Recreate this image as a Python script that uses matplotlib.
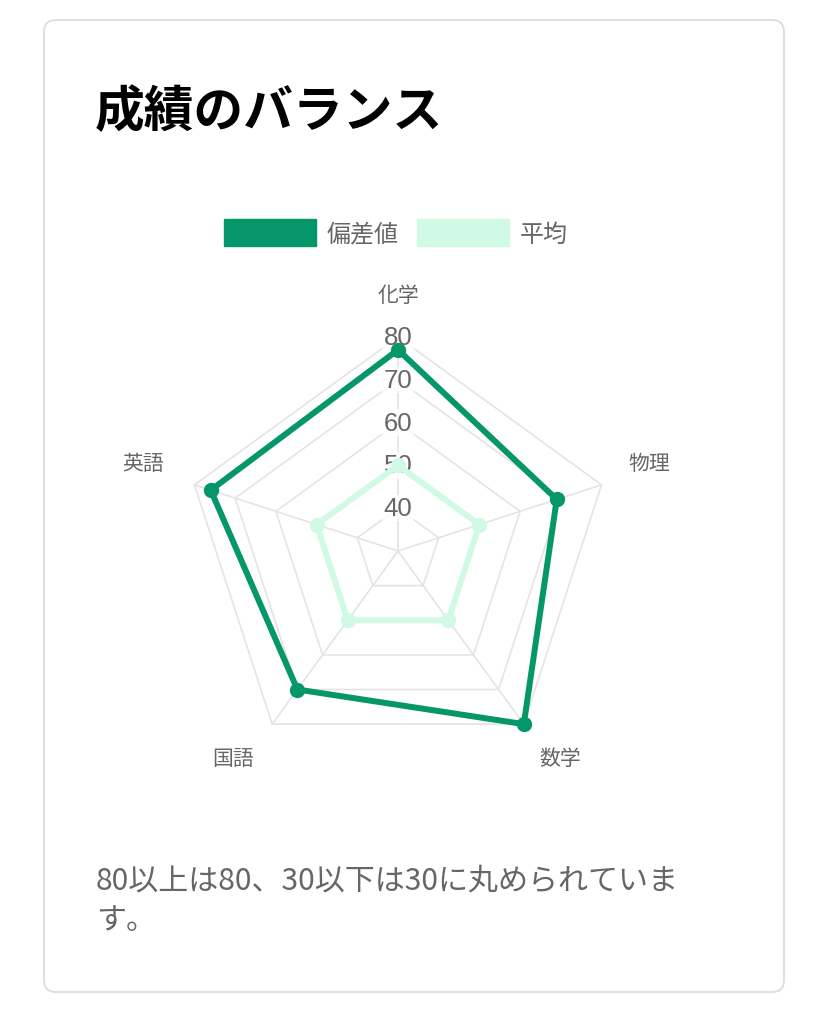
import numpy as np
import matplotlib
matplotlib.use('Agg')
import matplotlib.pyplot as plt
from matplotlib.patches import FancyBboxPatch, Patch

plt.rcParams['font.family'] = ['Noto Sans CJK JP', 'DejaVu Sans']

# ---- data ----
title = '成績のバランス'
subjects = ['化学', '物理', '数学', '国語', '英語']
series_names = ['偏差値', '平均']
deviation = [77, 69, 80, 70, 76]
average = [50, 50, 50, 50, 50]
r_min, r_max = 30, 80
tick_values = [40, 50, 60, 70, 80]
note_lines = ['80以上は80、30以下は30に丸められていま', 'す。']

# ---- style ----
dark = '#059669'
light = '#d1fae5'
grid_c = '#e4e4e4'
txt_c = '#666666'

W, H = 828, 1020
fig = plt.figure(figsize=(W / 100, H / 100), dpi=100)
bg = fig.add_axes([0, 0, 1, 1])
bg.set_xlim(0, W)
bg.set_ylim(H, 0)
bg.axis('off')
bg.add_patch(FancyBboxPatch((44, 21), 740, 972,
                            boxstyle='round,pad=0,rounding_size=12',
                            fc='white', ec='#dcdcdc', lw=1.3))
bg.text(95, 113, title, fontsize=35.8, fontweight='bold', color='black',
        ha='left', va='center')
for i, line in enumerate(note_lines):
    bg.text(96, 881 + 40 * i, line, fontsize=21.6, color=txt_c,
            ha='left', va='center')

# ---- radar ----
cx, cy, R = 398, 552, 214
ax = fig.add_axes([(cx - R) / W, (H - cy - R) / H, 2 * R / W, 2 * R / H],
                  projection='polar')
ax.patch.set_visible(False)
ax.set_theta_offset(np.pi / 2)
ax.set_theta_direction(-1)
ax.set_ylim(r_min, r_max)
ax.grid(False)
ax.spines['polar'].set_visible(False)
ax.set_xticks([])
ax.set_yticks([])

n = len(subjects)
theta = np.arange(n) * 2 * np.pi / n
theta_c = np.append(theta, theta[0])

for v in tick_values:
    ax.plot(theta_c, [v] * (n + 1), color=grid_c, lw=1.2, zorder=1, clip_on=False)
for t in theta:
    ax.plot([t, t], [r_min, r_max], color=grid_c, lw=1.2, zorder=1, clip_on=False)

for v in tick_values:
    ax.text(0, v, str(v), ha='center', va='center', fontsize=18.5, color=txt_c,
            family=['Liberation Sans', 'DejaVu Sans'], zorder=2,
            bbox=dict(facecolor='white', alpha=0.8, edgecolor='none', pad=1))

for vals, col in [(average, light), (deviation, dark)]:
    vc = list(vals) + [vals[0]]
    ax.plot(theta_c, vc, color=col, lw=4.3, zorder=4, clip_on=False,
            solid_joinstyle='miter')
    ax.plot(theta, vals, 'o', color=col, ms=10, zorder=5, clip_on=False)

label_place = [((0, 42), 'center'), ((27, 22), 'left'), ((16, -34), 'left'),
               ((-18, -34), 'right'), ((-30, 22), 'right')]
for t, s, (off, ha) in zip(theta, subjects, label_place):
    ax.annotate(s, xy=(t, r_max), xytext=off, textcoords='offset pixels',
                ha=ha, va='center', fontsize=15, color=txt_c, annotation_clip=False)

fig.legend(handles=[Patch(facecolor=dark, edgecolor=dark),
                    Patch(facecolor=light, edgecolor=light)],
           labels=series_names, ncol=2, loc='center',
           bbox_to_anchor=(396 / W, 1 - 234 / H), frameon=False,
           fontsize=17.3, handlelength=3.83, handleheight=1.33,
           handletextpad=0.45, columnspacing=0.75, labelcolor=txt_c)

fig.savefig('out.png', dpi=100, facecolor='white')
